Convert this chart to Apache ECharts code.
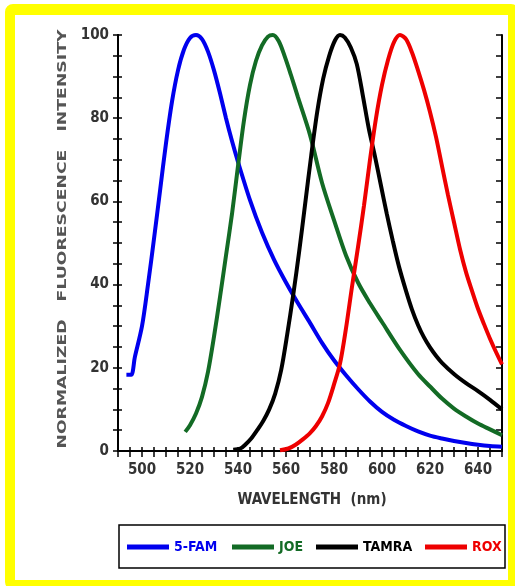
<!DOCTYPE html>
<html>
<head>
    <meta charset="utf-8">
    <title>Fluorescence spectra</title>
    <script src="https://cdn.jsdelivr.net/npm/echarts@6/dist/echarts.min.js"></script>
    <style>
        html, body { margin: 0; padding: 0; width: 515px; height: 586px; overflow: hidden; background: #fff; }
        #frame {
            position: absolute; left: 5px; top: 4px; width: 514px; height: 586px;
            box-sizing: border-box; border-style: solid; border-color: #ffff00;
            border-width: 11px 11px 10px 10px; border-radius: 8px;
        }
        #chart { position: absolute; left: 0; top: 0; width: 515px; height: 586px; }
    </style>
</head>
<body>
<div id="frame"></div>
<div id="chart"></div>
<script>
    // 数据：波长(nm) / 归一化荧光强度
    var fam = [[493.5,18.3],[495.5,18.3],[497,22.5],[500,30],[502.5,40],[505,51],[507.5,62.5],[510,74],[512.5,84],
        [515,91.5],[517.5,96.5],[520,99.3],[522.5,100],[525,99],[527.5,96],[530,91.5],[532.5,86],[535,80],
        [537.5,74.5],[540,69.5],[545,60.3],[550,52.5],[555,46],[560,40.5],[565,35.5],[570,30.8],[575,26],
        [580,21.8],[585,18.2],[590,14.9],[595,11.9],[600,9.4],[605,7.5],[610,6],[615,4.7],[620,3.7],[625,3],
        [630,2.4],[635,1.9],[640,1.5],[645,1.2],[650,1.0]];
    var joe = [[518,4.6],[520,6.2],[522.5,9],[525,13],[527.5,19],[530,27.5],[532.5,37],[535,47],[537.5,57],
        [540,68.5],[542.5,79.5],[545,88],[547.5,93.8],[550,97.5],[552.5,99.6],[554.5,100],[557,98.5],[559.5,94.8],
        [562,90.5],[565,85],[570,76],[575,64.5],[580,55.5],[585,47],[590,40.5],[595,35.5],[600,31],[607.5,24.3],
        [615,18.5],[620,15.5],[625,12.6],[630,10.2],[635,8.3],[640,6.6],[645,5.2],[650,3.8]];
    var tamra = [[538,0.3],[541,0.6],[543,1.5],[545.5,3],[548,5],[550.5,7.2],[553,10],[555.5,13.8],[558,19.5],
        [560.5,28],[563,37.5],[565.5,48],[568,59.5],[570.5,71],[573,81.5],[575.5,89.5],[578,95],[580.5,98.8],
        [582.5,100],[584.5,99.4],[587,97],[589.5,93],[592,85.5],[594.5,77.5],[597,71],[599.5,64],[602,57],
        [604.5,50.5],[607,44.5],[610,38.5],[612.5,34],[615,30.3],[617.5,27.3],[620,24.9],[622.5,22.9],
        [625,21.2],[630,18.5],[635,16.3],[640,14.4],[645,12.3],[650,10]];
    var rox = [[557.5,0.2],[561,0.6],[564,1.5],[567,2.8],[570,4.3],[572.5,6],[575,8.3],[577.5,11.5],[580,16],
        [582.5,21],[585,29.5],[587.5,39.5],[590,49],[592.5,59],[595,70],[597.5,80],[600,88],[602.5,94],[605,98.3],
        [607.5,100],[610,99],[612.5,95.8],[615,91.5],[617.5,86.8],[620,81.5],[622.5,75.5],[625,68.5],[627.5,61.5],
        [630,55],[632.5,48.5],[635,43],[637.5,38.5],[640,34.2],[642.5,30.5],[645,27],[647.5,23.8],[650,20.8]];

    var names = ['5-FAM', 'JOE', 'TAMRA', 'ROX'];
    var colors = ['#0000ee', '#136b25', '#000000', '#ee0000'];
    var seriesData = [fam, joe, tamra, rox];
    var legendLeft = [127, 232, 316, 425];

    var tickFont = "'Liberation Sans Narrow','DejaVu Sans Condensed','Liberation Sans',sans-serif";

    var myChart = echarts.init(document.getElementById('chart'));

    function xAxisBase(pos, inside, len, showLabel) {
        return {
            type: 'value', position: pos, min: 490, max: 650, interval: 10,
            axisLine: { show: true, lineStyle: { color: '#000', width: 2 } },
            axisTick: { show: true, inside: inside, length: len, lineStyle: { color: '#000', width: 1.5 } },
            minorTick: { show: true, splitNumber: 2, length: len, lineStyle: { color: '#000', width: 1.5 } },
            splitLine: { show: false },
            axisLabel: {
                show: showLabel, margin: 12, color: '#333', fontWeight: 'bold', fontSize: 15, fontFamily: tickFont,
                formatter: function (v) { return (v % 20 === 0 && v > 490 && v < 650) ? v : ''; }
            }
        };
    }
    function yAxisBase(pos, inside, len, showLabel) {
        return {
            type: 'value', position: pos, min: 0, max: 100, interval: 10,
            axisLine: { show: true, lineStyle: { color: '#000', width: 2 } },
            axisTick: { show: true, inside: inside, length: len, lineStyle: { color: '#000', width: 1.5 } },
            minorTick: { show: true, splitNumber: 2, length: len, lineStyle: { color: '#000', width: 1.5 } },
            splitLine: { show: false },
            axisLabel: {
                show: showLabel, margin: 9, color: '#333', fontWeight: 'bold', fontSize: 15, fontFamily: tickFont,
                formatter: function (v) { return v % 20 === 0 ? v : ''; }
            }
        };
    }

    var series = [];
    var legends = [];
    for (var i = 0; i < names.length; i++) {
        series.push({
            name: names[i], type: 'line', data: seriesData[i], smooth: 0.3,
            showSymbol: false, symbol: 'none',
            lineStyle: { color: colors[i], width: 4 },
            itemStyle: { color: colors[i] }
        });
        legends.push({
            data: [names[i]], left: legendLeft[i], top: 540, padding: 0,
            icon: 'rect', itemWidth: 42, itemHeight: 5, selectedMode: false,
            textStyle: { color: colors[i], fontWeight: 'bold', fontSize: 14, fontFamily: tickFont }
        });
    }

    myChart.setOption({
        animation: false,
        grid: { left: 118, right: 13, top: 35, bottom: 135 },
        xAxis: [
            xAxisBase('bottom', true, 4, true),
            xAxisBase('bottom', false, 4, false),
            xAxisBase('top', true, 6, false)
        ],
        yAxis: [
            yAxisBase('left', true, 4, true),
            yAxisBase('left', false, 5, false),
            yAxisBase('right', true, 6, false)
        ],
        legend: legends,
        graphic: [
            {
                type: 'rect', shape: { x: 119, y: 525, width: 386, height: 43 },
                style: { fill: null, stroke: '#000', lineWidth: 1.5 }
            },
            {
                type: 'text', x: 312, y: 500,
                style: {
                    text: 'WAVELENGTH  (nm)', fill: '#333', font: 'bold 15px ' + tickFont,
                    textAlign: 'center', textVerticalAlign: 'middle'
                }
            },
            {
                type: 'text', x: 63, y: 239, rotation: Math.PI / 2, scaleX: 1.6,
                style: {
                    text: 'NORMALIZED   FLUORESCENCE   INTENSITY', fill: '#555', font: 'bold 12px ' + tickFont,
                    textAlign: 'center', textVerticalAlign: 'middle'
                }
            }
        ],
        series: series
    });
</script>
</body>
</html>
